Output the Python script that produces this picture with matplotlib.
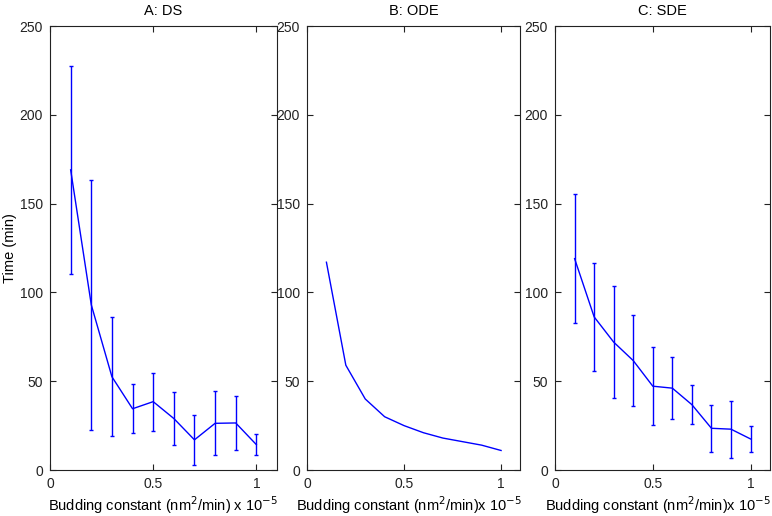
import matplotlib.pyplot as plt
import numpy as np

plt.rcParams['font.family'] = ['Liberation Sans', 'DejaVu Sans']

budding = [0.1, 0.2, 0.3, 0.4, 0.5, 0.6, 0.7, 0.8, 0.9, 1.0]

ds_mean = [169, 93, 52.5, 34.5, 38.5, 29, 17, 26.3, 26.5, 14.3]
ds_err = [58.5, 70.5, 33.5, 13.7, 16.4, 15, 14, 18, 15, 5.9]

ode_mean = [117, 59, 40, 30, 25, 21, 18, 16, 14, 11]

sde_mean = [119, 86.2, 72, 61.6, 47.2, 46.1, 36.8, 23.5, 23, 17.5]
sde_err = [36.2, 30.6, 31.6, 25.8, 21.9, 17.6, 10.8, 13.2, 16, 7.1]

titles = ['A: DS', 'B: ODE', 'C: SDE']
xlabels = ['Budding constant (nm$^2$/min) x 10$^{-5}$',
           'Budding constant (nm$^2$/min)x 10$^{-5}$',
           'Budding constant (nm$^2$/min)x 10$^{-5}$']
yticks = [0, 50, 100, 150, 200, 250]
xticks = [0, 0.5, 1]
xtick_labels = ['0', '0.5', '1']

fig = plt.figure(figsize=(7.72, 5.16), dpi=100)
positions = [[0.0648, 0.0891, 0.294, 0.8605],
             [0.3977, 0.0891, 0.2765, 0.8605],
             [0.719, 0.0891, 0.2785, 0.8605]]
axes = [fig.add_axes(p) for p in positions]

axes[0].errorbar(budding, ds_mean, yerr=ds_err, color='#0000ff', lw=1.0,
                 elinewidth=1.0, capsize=1.5, capthick=1.0)
axes[1].plot(budding, ode_mean, color='#0000ff', lw=1.0)
axes[2].errorbar(budding, sde_mean, yerr=sde_err, color='#0000ff', lw=1.0,
                 elinewidth=1.0, capsize=1.5, capthick=1.0)

label_x = [0.497, 0.477, 0.478]
for ax, title, xl, lx in zip(axes, titles, xlabels, label_x):
    ax.set_xlim(0, 1.1)
    ax.set_ylim(0, 250)
    ax.set_xticks(xticks)
    ax.set_xticklabels(xtick_labels)
    ax.set_yticks(yticks)
    ax.tick_params(direction='in', top=True, right=True, labelsize=10,
                   length=4, width=0.8, colors='#222222', pad=5)
    for s in ax.spines.values():
        s.set_linewidth(0.8)
        s.set_color('#222222')
    ax.set_title(title, fontsize=10.5, pad=8)
    ax.set_xlabel(xl, fontsize=10.5)
    ax.xaxis.set_label_coords(lx, -0.055)

axes[0].set_ylabel('Time (min)', fontsize=10.5)
axes[0].yaxis.set_label_coords(-0.145, 0.5)

fig.savefig('out.png', dpi=100)
